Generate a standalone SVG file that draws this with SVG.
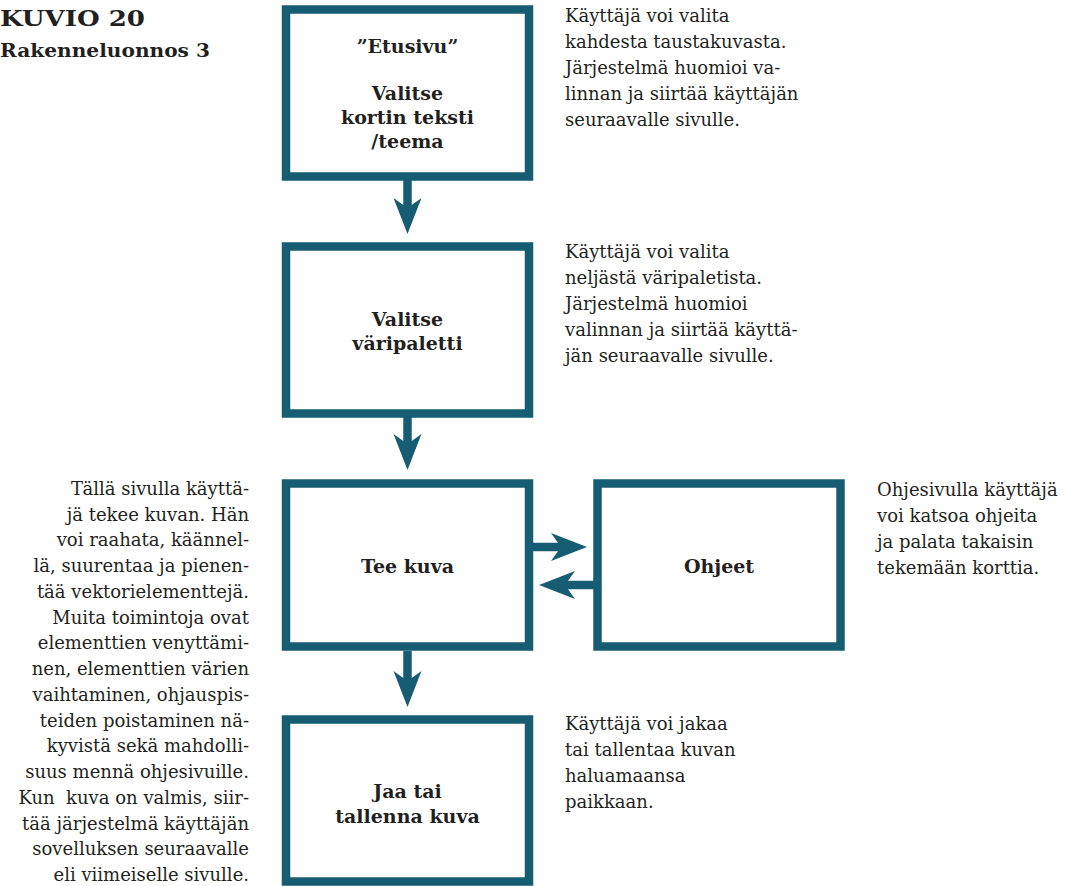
<svg xmlns="http://www.w3.org/2000/svg" width="1075" height="886" viewBox="0 0 1075 886">
<defs>
<style>
.box{fill:#fff;stroke:#165c73;stroke-width:8.5}
.lbl{font-family:"DejaVu Serif","Liberation Serif",serif;font-weight:bold;font-size:19px;fill:#231f20;text-anchor:middle}
.txt{font-family:"DejaVu Serif","Liberation Serif",serif;font-size:18px;fill:#231f20}
.ttl{font-family:"DejaVu Serif","Liberation Serif",serif;font-weight:bold;fill:#231f20}
.con{stroke:#165c73;stroke-width:8.5;fill:none}
</style>
<marker id="ah" markerUnits="userSpaceOnUse" viewBox="0 -15 36 30" refX="10" refY="0" markerWidth="36" markerHeight="30" orient="auto">
<path d="M0,-14 L36,0 L0,14 L10,0 Z" fill="#165c73"/>
</marker>
</defs>
<rect width="1075" height="886" fill="#fff"/>

<g id="title">
<text class="ttl" x="0" y="26" font-size="22" textLength="145" lengthAdjust="spacingAndGlyphs">KUVIO 20</text>
<text class="ttl" x="0" y="57" font-size="19" textLength="210" lengthAdjust="spacingAndGlyphs">Rakenneluonnos 3</text>
</g>

<g id="connectors">
<line class="con" x1="407.5" y1="180" x2="407.5" y2="208" marker-end="url(#ah)"/>
<line class="con" x1="407.5" y1="417" x2="407.5" y2="444" marker-end="url(#ah)"/>
<line class="con" x1="407.5" y1="651" x2="407.5" y2="681" marker-end="url(#ah)"/>
<line class="con" x1="532" y1="547" x2="561" y2="547" marker-end="url(#ah)"/>
<line class="con" x1="594" y1="585" x2="565" y2="585" marker-end="url(#ah)"/>
</g>

<g id="node-etusivu">
<rect class="box" x="286" y="9.5" width="243" height="167"/>
<text class="lbl" x="407.5" y="53">”Etusivu”</text>
<text class="lbl" x="407.5" y="100">Valitse</text>
<text class="lbl" x="407.5" y="124">kortin teksti</text>
<text class="lbl" x="407.5" y="148">/teema</text>
</g>

<g id="node-varipaletti">
<rect class="box" x="286" y="246.5" width="243" height="167"/>
<text class="lbl" x="407.5" y="326">Valitse</text>
<text class="lbl" x="407.5" y="350">väripaletti</text>
</g>

<g id="node-teekuva">
<rect class="box" x="286" y="483.5" width="243" height="163"/>
<text class="lbl" x="407.5" y="573">Tee kuva</text>
</g>

<g id="node-ohjeet">
<rect class="box" x="597.5" y="483.5" width="243" height="163"/>
<text class="lbl" x="719" y="573">Ohjeet</text>
</g>

<g id="node-jaa">
<rect class="box" x="286" y="719.5" width="243" height="162"/>
<text class="lbl" x="407.5" y="798">Jaa tai</text>
<text class="lbl" x="407.5" y="823">tallenna kuva</text>
</g>

<g id="note-1" class="txt">
<text x="565" y="22">Käyttäjä voi valita</text>
<text x="565" y="48">kahdesta taustakuvasta.</text>
<text x="565" y="74">Järjestelmä huomioi va-</text>
<text x="565" y="100">linnan ja siirtää käyttäjän</text>
<text x="565" y="126">seuraavalle sivulle.</text>
</g>

<g id="note-2" class="txt">
<text x="565" y="258">Käyttäjä voi valita</text>
<text x="565" y="284">neljästä väripaletista.</text>
<text x="565" y="310">Järjestelmä huomioi</text>
<text x="565" y="336">valinnan ja siirtää käyttä-</text>
<text x="565" y="362">jän seuraavalle sivulle.</text>
</g>

<g id="note-3" class="txt">
<text x="877" y="496">Ohjesivulla käyttäjä</text>
<text x="877" y="522">voi katsoa ohjeita</text>
<text x="877" y="548">ja palata takaisin</text>
<text x="877" y="574">tekemään korttia.</text>
</g>

<g id="note-4" class="txt">
<text x="565" y="730">Käyttäjä voi jakaa</text>
<text x="565" y="756">tai tallentaa kuvan</text>
<text x="565" y="782">haluamaansa</text>
<text x="565" y="808">paikkaan.</text>
</g>

<g id="note-left" class="txt" text-anchor="end">
<text x="249" y="495">Tällä sivulla käyttä-</text>
<text x="249" y="521">jä tekee kuvan. Hän</text>
<text x="249" y="546">voi raahata, käännel-</text>
<text x="249" y="572">lä, suurentaa ja pienen-</text>
<text x="249" y="598">tää vektorielementtejä.</text>
<text x="249" y="624">Muita toimintoja ovat</text>
<text x="249" y="649">elementtien venyttämi-</text>
<text x="249" y="675">nen, elementtien värien</text>
<text x="249" y="701">vaihtaminen, ohjauspis-</text>
<text x="249" y="727">teiden poistaminen nä-</text>
<text x="249" y="752">kyvistä sekä mahdolli-</text>
<text x="249" y="778">suus mennä ohjesivuille.</text>
<text x="249" y="804" xml:space="preserve">Kun  kuva on valmis, siir-</text>
<text x="249" y="830">tää järjestelmä käyttäjän</text>
<text x="249" y="855">sovelluksen seuraavalle</text>
<text x="249" y="881">eli viimeiselle sivulle.</text>
</g>
</svg>
